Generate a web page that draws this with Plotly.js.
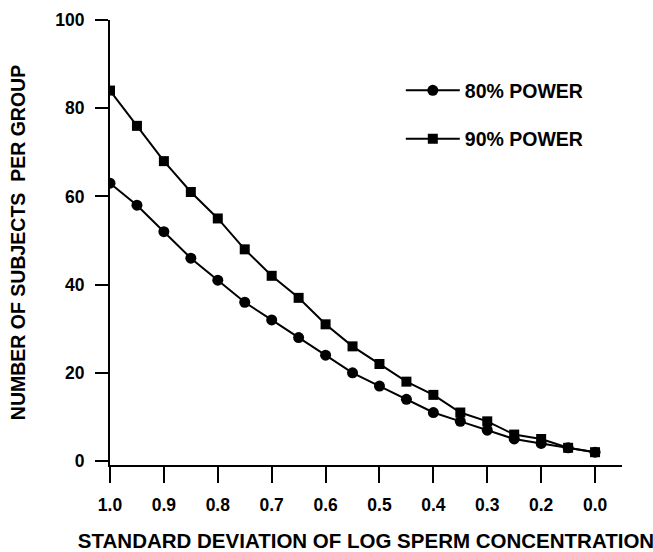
<!DOCTYPE html>
<html>
<head>
<meta charset="utf-8">
<script src="https://cdn.plot.ly/plotly-3.0.1.min.js"></script>
<style>html,body{margin:0;padding:0;background:#fff;}#chart{width:653px;height:552px;}</style>
</head>
<body>
<div id="chart"></div>
<script>
// Data
const sdValues = [1.0, 0.95, 0.9, 0.85, 0.8, 0.75, 0.7, 0.65, 0.6, 0.55, 0.5, 0.45, 0.4, 0.35, 0.3, 0.25, 0.2, 0.15, 0.1];
const power80 = [63, 58, 52, 46, 41, 36, 32, 28, 24, 20, 17, 14, 11, 9, 7, 5, 4, 3, 2];
const power90 = [84, 76, 68, 61, 55, 48, 42, 37, 31, 26, 22, 18, 15, 11, 9, 6, 5, 3, 2];
const seriesNames = ["80% POWER", "90% POWER"];
const xTickVals = [1.0, 0.9, 0.8, 0.7, 0.6, 0.5, 0.4, 0.3, 0.2, 0.1];
const xTickText = ["1.0", "0.9", "0.8", "0.7", "0.6", "0.5", "0.4", "0.3", "0.2", "0.0"];
const yTickVals = [0, 20, 40, 60, 80, 100];

const FONT = "Liberation Sans, Arial, Helvetica, sans-serif";

const traces = [
  {
    x: sdValues, y: power80, name: seriesNames[0], legendgroup: "a",
    mode: "lines+markers", type: "scatter",
    line: {color: "#000", width: 2},
    marker: {symbol: "circle", size: 11, color: "#000"}
  },
  {
    x: sdValues, y: power90, name: seriesNames[1], legendgroup: "b",
    mode: "lines+markers", type: "scatter",
    line: {color: "#000", width: 2},
    marker: {symbol: "square", size: 10, color: "#000"}
  }
];

const layout = {
  width: 653, height: 552,
  margin: {l: 110, r: 31, t: 20, b: 87},
  paper_bgcolor: "#fff", plot_bgcolor: "#fff",
  font: {family: FONT, color: "#000", size: 17, weight: "bold"},
  showlegend: true,
  legend: {
    x: 0.568, y: 0.885, xanchor: "left", yanchor: "top",
    traceorder: "grouped", tracegroupgap: 20,
    font: {family: FONT, size: 19.5, color: "#000", weight: "bold"},
    bgcolor: "rgba(0,0,0,0)", itemwidth: 54
  },
  xaxis: {
    range: [1.0, 0.05],
    tickvals: xTickVals, ticktext: xTickText,
    ticks: "outside", ticklen: 16, tickwidth: 2, tickcolor: "#000",
    showline: true, linecolor: "#000", linewidth: 2,
    showgrid: false, zeroline: false,
    tickfont: {family: FONT, size: 17.5, color: "#000", weight: "bold"},
    ticklabelstandoff: 7,
    title: {text: "STANDARD DEVIATION OF LOG SPERM CONCENTRATION",
            font: {family: FONT, size: 20.5, color: "#000", weight: "bold"}, standoff: 20},
    automargin: false
  },
  yaxis: {
    range: [-0.9, 100],
    tickvals: yTickVals,
    ticks: "outside", ticklen: 13, tickwidth: 2, tickcolor: "#000",
    showline: true, linecolor: "#000", linewidth: 2,
    showgrid: false, zeroline: false,
    tickfont: {family: FONT, size: 17.5, color: "#000", weight: "bold"},
    ticklabelstandoff: 7,
    title: {text: "NUMBER OF SUBJECTS&nbsp; PER GROUP",
            font: {family: FONT, size: 19.5, color: "#000", weight: "bold"}, standoff: 24},
    automargin: false
  }
};

Plotly.newPlot("chart", traces, layout, {staticPlot: true, displayModeBar: false});
</script>
</body>
</html>
